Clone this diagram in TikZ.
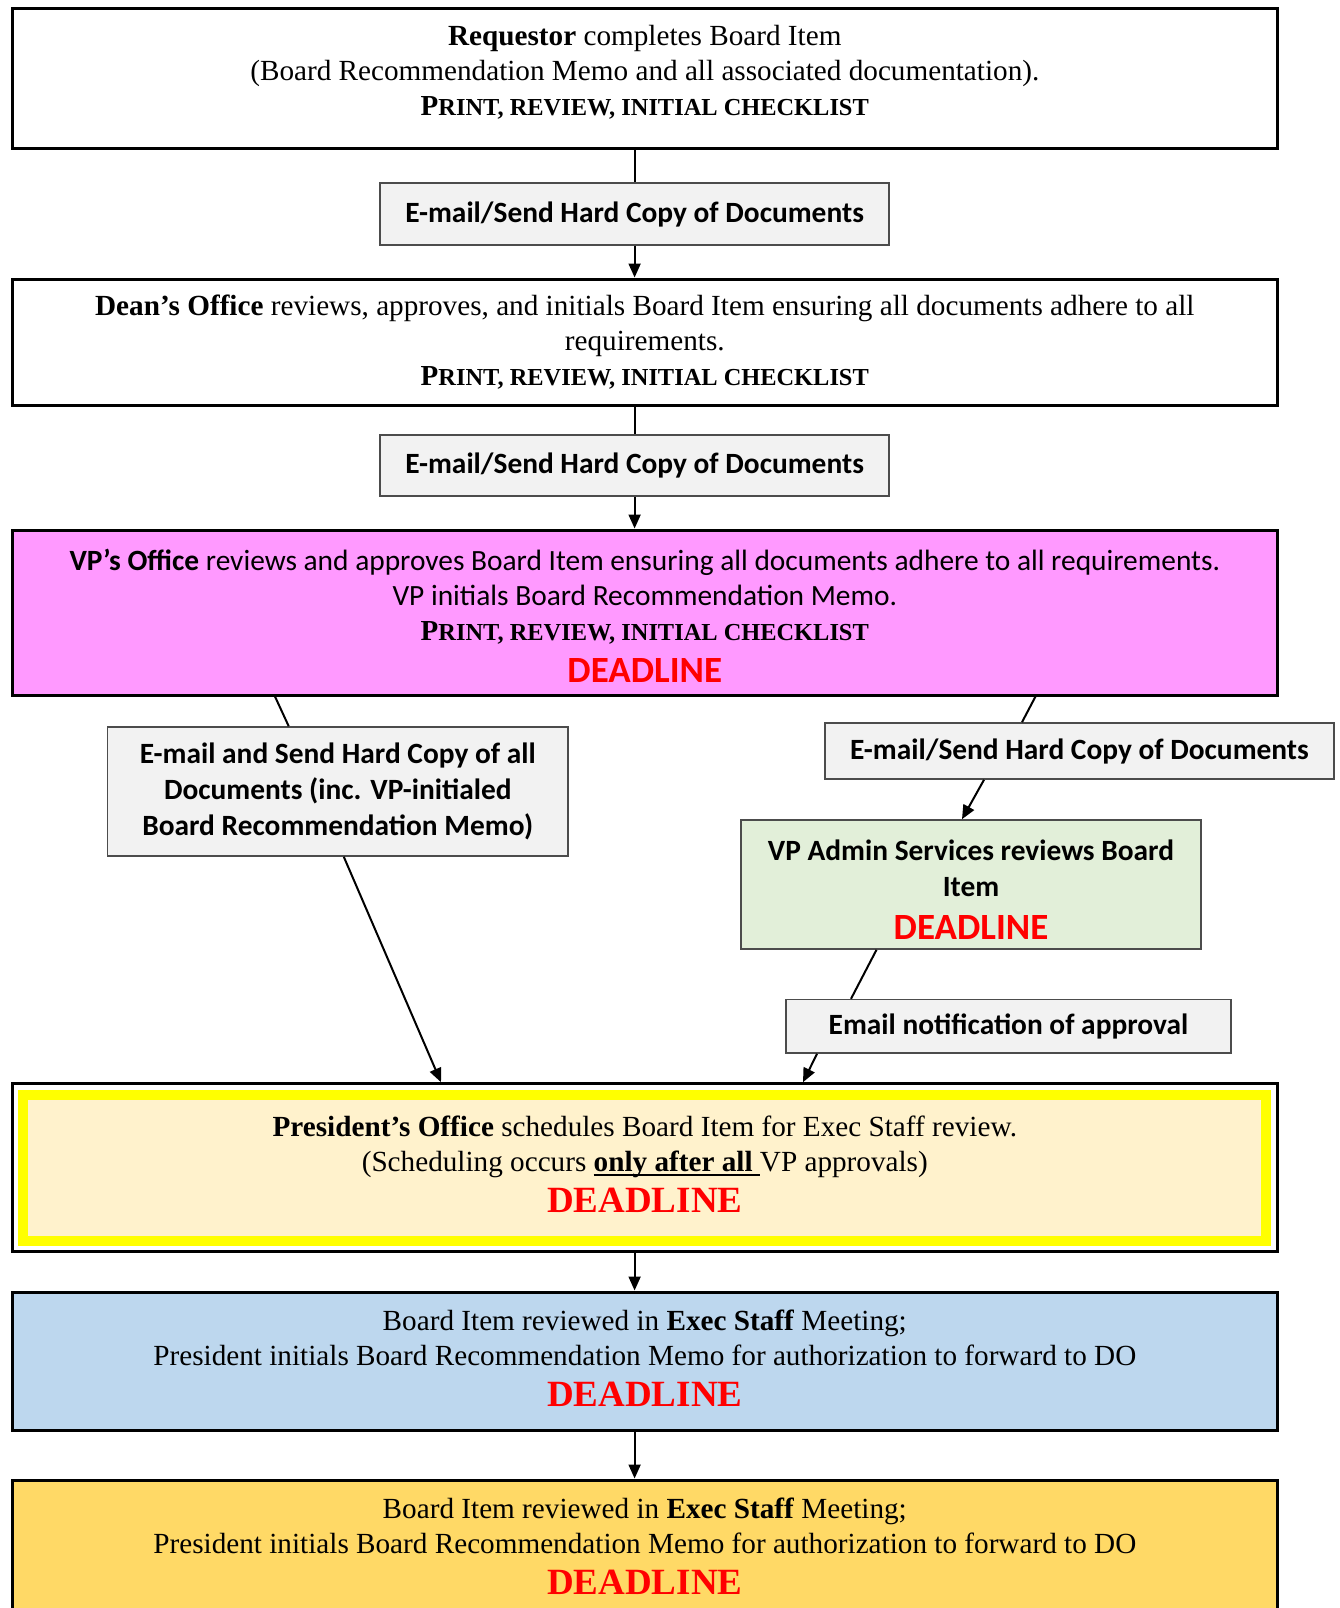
\documentclass[tikz,border=0pt]{standalone}
\usepackage{fontspec}
\setmainfont{Liberation Serif}
\newfontfamily\calib{Carlito}
\usetikzlibrary{arrows.meta}

\definecolor{labfill}{HTML}{F2F2F2}
\definecolor{vpfill}{HTML}{FF99FF}
\definecolor{adminfill}{HTML}{E2EFD9}
\definecolor{presfill}{HTML}{FFF2CC}
\definecolor{presband}{HTML}{FFFF00}
\definecolor{execfill}{HTML}{BDD7EE}
\definecolor{dofill}{HTML}{FFD966}
\definecolor{dlred}{HTML}{FF0000}

\newcommand{\pric}{{\bfseries{\fontsize{14.5}{17.5}\selectfont P}{\fontsize{12.2}{17.5}\selectfont RINT, REVIEW, INITIAL CHECKLIST}}}
\newcommand{\dlserif}{{\color{dlred}\bfseries\fontsize{18.5}{22}\selectfont DEADLINE}}
\newcommand{\dlsans}{{\color{dlred}\calib\bfseries\fontsize{18.5}{22}\selectfont DEADLINE}}
\newcommand{\ulbold}[1]{\setbox0\hbox{#1}\rlap{\rule[-2.6pt]{\wd0}{1.3pt}}\box0}
% struts that set the top and bottom of a box text
\newcommand{\strtop}[1]{\rule{0pt}{#1}}
\newcommand{\strbot}[1]{\rule[-#1]{0pt}{#1}}

\tikzset{
  mainbox/.style={draw=black, line width=1.5pt, minimum width=632.5pt, text width=632.5pt,
    inner sep=0pt, align=flush center, font=\fontsize{14.6}{17.5}\selectfont},
  reviewbox/.style={draw=black!70, line width=0.8pt, fill=adminfill, minimum width=230.25pt,
    text width=230.25pt, inner sep=0pt, align=flush center, font=\calib\bfseries\fontsize{14.7}{18}\selectfont},
  mailbox/.style={draw=black!70, line width=0.8pt, fill=labfill, inner sep=0pt,
    align=center, font=\calib\bfseries\fontsize{14.7}{18}\selectfont},
  link/.style={line width=1pt},
  flow/.style={line width=1pt, -{Triangle[width=6pt,length=7pt]}}
}

\begin{document}
\begin{tikzpicture}[x=0.5pt, y=-0.5pt]
\useasboundingbox (0,0) rectangle (1340,1608);

% main steps
\node[mainbox, minimum height=70.2pt] (req) at (644.8,78.5)
  {\strtop{13pt}\textbf{Requestor} completes Board Item\\(Board Recommendation Memo and all associated documentation).\\\pric\strbot{10.6pt}};
\node[mainbox, minimum height=63pt] (dean) at (644.8,342)
  {\strtop{13pt}\textbf{Dean’s Office} reviews, approves, and initials Board Item ensuring all documents adhere to all\\requirements.\\\pric\strbot{5pt}};
\node[mainbox, fill=vpfill, minimum height=82.5pt] (vp) at (644.8,612.5)
  {{\calib\fontsize{14.7}{17.5}\selectfont\strtop{14pt}\textbf{VP’s Office} reviews and approves Board Item ensuring all documents adhere to all requirements.}\\{\calib\fontsize{14.7}{17.5}\selectfont VP initials Board Recommendation Memo.}\\\pric\\[3.5pt]\dlsans};
\node[mainbox, minimum height=84pt,
  path picture={\draw[presband, line width=5pt, fill=presfill]
    ([shift={(5.5pt,-5.5pt)}]path picture bounding box.north west) rectangle
    ([shift={(-5.5pt,5.5pt)}]path picture bounding box.south east);}] (pres) at (644.8,1167.7)
  {\strtop{13pt}\textbf{President’s Office} schedules Board Item for Exec Staff review.\\(Scheduling occurs \ulbold{\textbf{only after all}\ }VP approvals)\\[3pt]\dlserif\strbot{6.5pt}};
\node[mainbox, fill=execfill, minimum height=69pt] (exec) at (644.8,1361)
  {\strtop{13pt}Board Item reviewed in \textbf{Exec Staff} Meeting;\\President initials Board Recommendation Memo for authorization to forward to DO\\[3pt]\dlserif\strbot{5.5pt}};
\node[mainbox, fill=dofill, minimum height=69pt] (do) at (644.8,1549)
  {\strtop{13pt}Board Item reviewed in \textbf{Exec Staff} Meeting;\\President initials Board Recommendation Memo for authorization to forward to DO\\[3pt]\dlserif\strbot{5.5pt}};

% side review
\node[reviewbox, minimum height=64.5pt] (admin) at (971,884.5)
  {\strtop{15.5pt}VP Admin Services reviews Board\\Item\\[3.5pt]\dlsans};

% hand-offs
\node[mailbox, minimum width=254.5pt, minimum height=30.75pt] (mail1) at (634.6,214) {E-mail/Send Hard Copy of Documents};
\node[mailbox, minimum width=254.5pt, minimum height=30.75pt] (mail2) at (634.6,465.5) {E-mail/Send Hard Copy of Documents};
\node[mailbox, minimum width=230.2pt, minimum height=64.5pt] (mail3) at (337.8,791.5)
  {E-mail and Send Hard Copy of all\\Documents (inc. VP-initialed\\Board Recommendation Memo)};
\node[mailbox, minimum width=254.5pt, minimum height=28pt] (mail4) at (1079.5,751) {E-mail/Send Hard Copy of Documents};
\node[mailbox, minimum width=222.5pt, minimum height=26.7pt] (note) at (1008.5,1026.3) {Email notification of approval};

% connectors
\draw[link] (mail1.north |- req.south) -- (mail1.north);
\draw[flow] (mail1.south) -- (mail1.south |- dean.north);
\draw[link] (mail2.north |- dean.south) -- (mail2.north);
\draw[flow] (mail2.south) -- (mail2.south |- vp.north);
\draw[link] ([xshift=-184.9pt]vp.south) -- ([xshift=-24.55pt]mail3.north);
\draw[flow] ([xshift=3pt]mail3.south) -- ([xshift=-101.9pt]pres.north);
\draw[link] ([xshift=195.35pt]vp.south) -- ([xshift=-28.75pt]mail4.north);
\draw[flow] ([xshift=-47.75pt]mail4.south) -- ([xshift=-4.5pt]admin.north);
\draw[link] ([xshift=-47.25pt]admin.south) -- ([xshift=-78.75pt]note.north);
\draw[flow] ([xshift=-95.75pt]note.south) -- ([xshift=79.1pt]pres.north);
\draw[flow] ([xshift=-5.1pt]pres.south) -- ([xshift=-5.1pt]exec.north);
\draw[flow] ([xshift=-5.1pt]exec.south) -- ([xshift=-5.1pt]do.north);
\end{tikzpicture}
\end{document}
